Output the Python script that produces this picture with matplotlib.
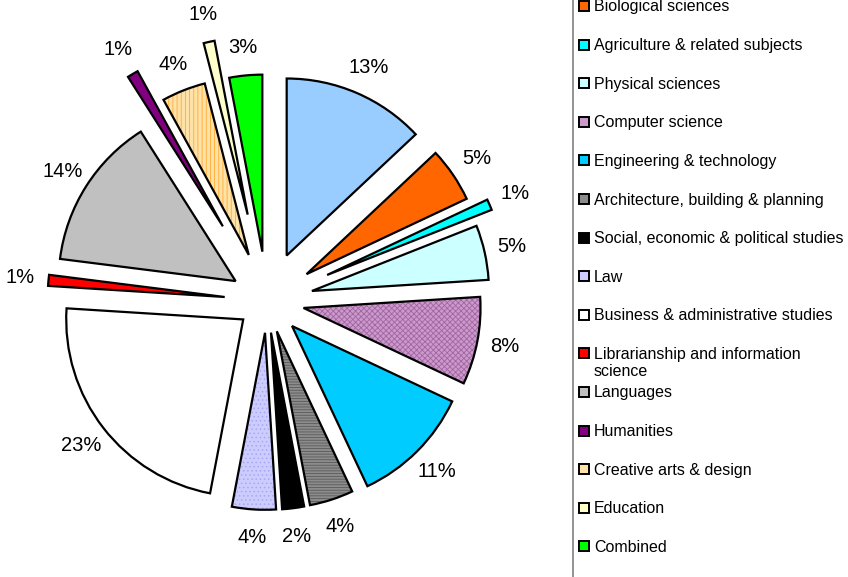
import matplotlib
matplotlib.use("Agg")
import matplotlib.pyplot as plt
from matplotlib.patches import Rectangle

plt.rcParams["font.family"] = ["Liberation Sans", "DejaVu Sans"]
plt.rcParams["hatch.linewidth"] = 0.6

# share of students by subject area (%), clockwise from 12 o'clock
subjects = [
    "Subjects allied to medicine",
    "Biological sciences",
    "Agriculture & related subjects",
    "Physical sciences",
    "Computer science",
    "Engineering & technology",
    "Architecture, building & planning",
    "Social, economic & political studies",
    "Law",
    "Business & administrative studies",
    "Librarianship and information\nscience",
    "Languages",
    "Humanities",
    "Creative arts & design",
    "Education",
    "Combined",
]
shares = [13, 5, 1, 5, 8, 11, 4, 2, 4, 23, 1, 14, 1, 4, 1, 3]
fills = ["#99CCFF", "#FF6600", "#00FFFF", "#CCFFFF", "#CC99CC", "#00CCFF",
         "#8C8C8C", "#000000", "#CCCCFF", "#FFFFFF", "#FF0000", "#C0C0C0",
         "#800080", "#FFE2A8", "#FFFFCC", "#00FF00"]
hatches = [None, None, None, None, "xxxxxx", None, "------", None, "....",
           None, None, None, None, "||||", None, None]
hatch_colors = ["none", "none", "none", "none", "#A066A0", "none", "#5A5A5A",
                "none", "#A8A8F0", "none", "none", "none", "none", "#FFAA33",
                "none", "none"]
explode = [0.28, 0.27, 0.37, 0.26, 0.21, 0.20, 0.18, 0.18, 0.18, 0.17,
           0.24, 0.21, 0.49, 0.28, 0.50, 0.28]

W, H = 848, 577
cx, cy, rpx = 267, 301, 177  # pie centre and radius in pixels

fig = plt.figure(figsize=(W / 100, H / 100), dpi=100)
ax = fig.add_axes([0, 0, 1, 1])

# fill + hatch layer
wedges, _ = ax.pie(shares, explode=explode, colors=fills, startangle=90,
                   counterclock=False, radius=1,
                   wedgeprops=dict(linewidth=0))
for w, h, hc in zip(wedges, hatches, hatch_colors):
    if h:
        w.set_hatch(h)
        w.set_edgecolor(hc)

# outline layer + percentage labels
outl, _, pct = ax.pie(shares, explode=explode, startangle=90,
                      counterclock=False, radius=1,
                      autopct="%1.0f%%", pctdistance=1.16,
                      wedgeprops=dict(facecolor="none", edgecolor="black",
                                      linewidth=1.6, joinstyle="miter"))
for t in pct:
    t.set_fontsize(14.5)
    t.set_color("black")

ax.set_xlim(-cx / rpx, (W - cx) / rpx)
ax.set_ylim(-(H - cy) / rpx, cy / rpx)
ax.set_aspect("auto")
ax.axis("off")

# legend (first entry sits above the visible area)
fig.patches.append(Rectangle((573 / W, -0.05), 0.5, 1.2, transform=fig.transFigure,
                             fill=False, edgecolor="#808080", linewidth=1.2))
y0, step = 6, 38.6
for i, (name, col) in enumerate(zip(subjects[1:], fills[1:])):
    yc = y0 + i * step
    fig.patches.append(Rectangle((579 / W, 1 - (yc + 5) / H), 10 / W, 10 / H,
                                 transform=fig.transFigure, facecolor=col,
                                 edgecolor="black", linewidth=1.4))
    fig.text(594 / W, 1 - (yc - 6.5) / H, name, fontsize=11.5,
             va="top", ha="left", linespacing=1.2)

fig.savefig("out.png", dpi=100)
